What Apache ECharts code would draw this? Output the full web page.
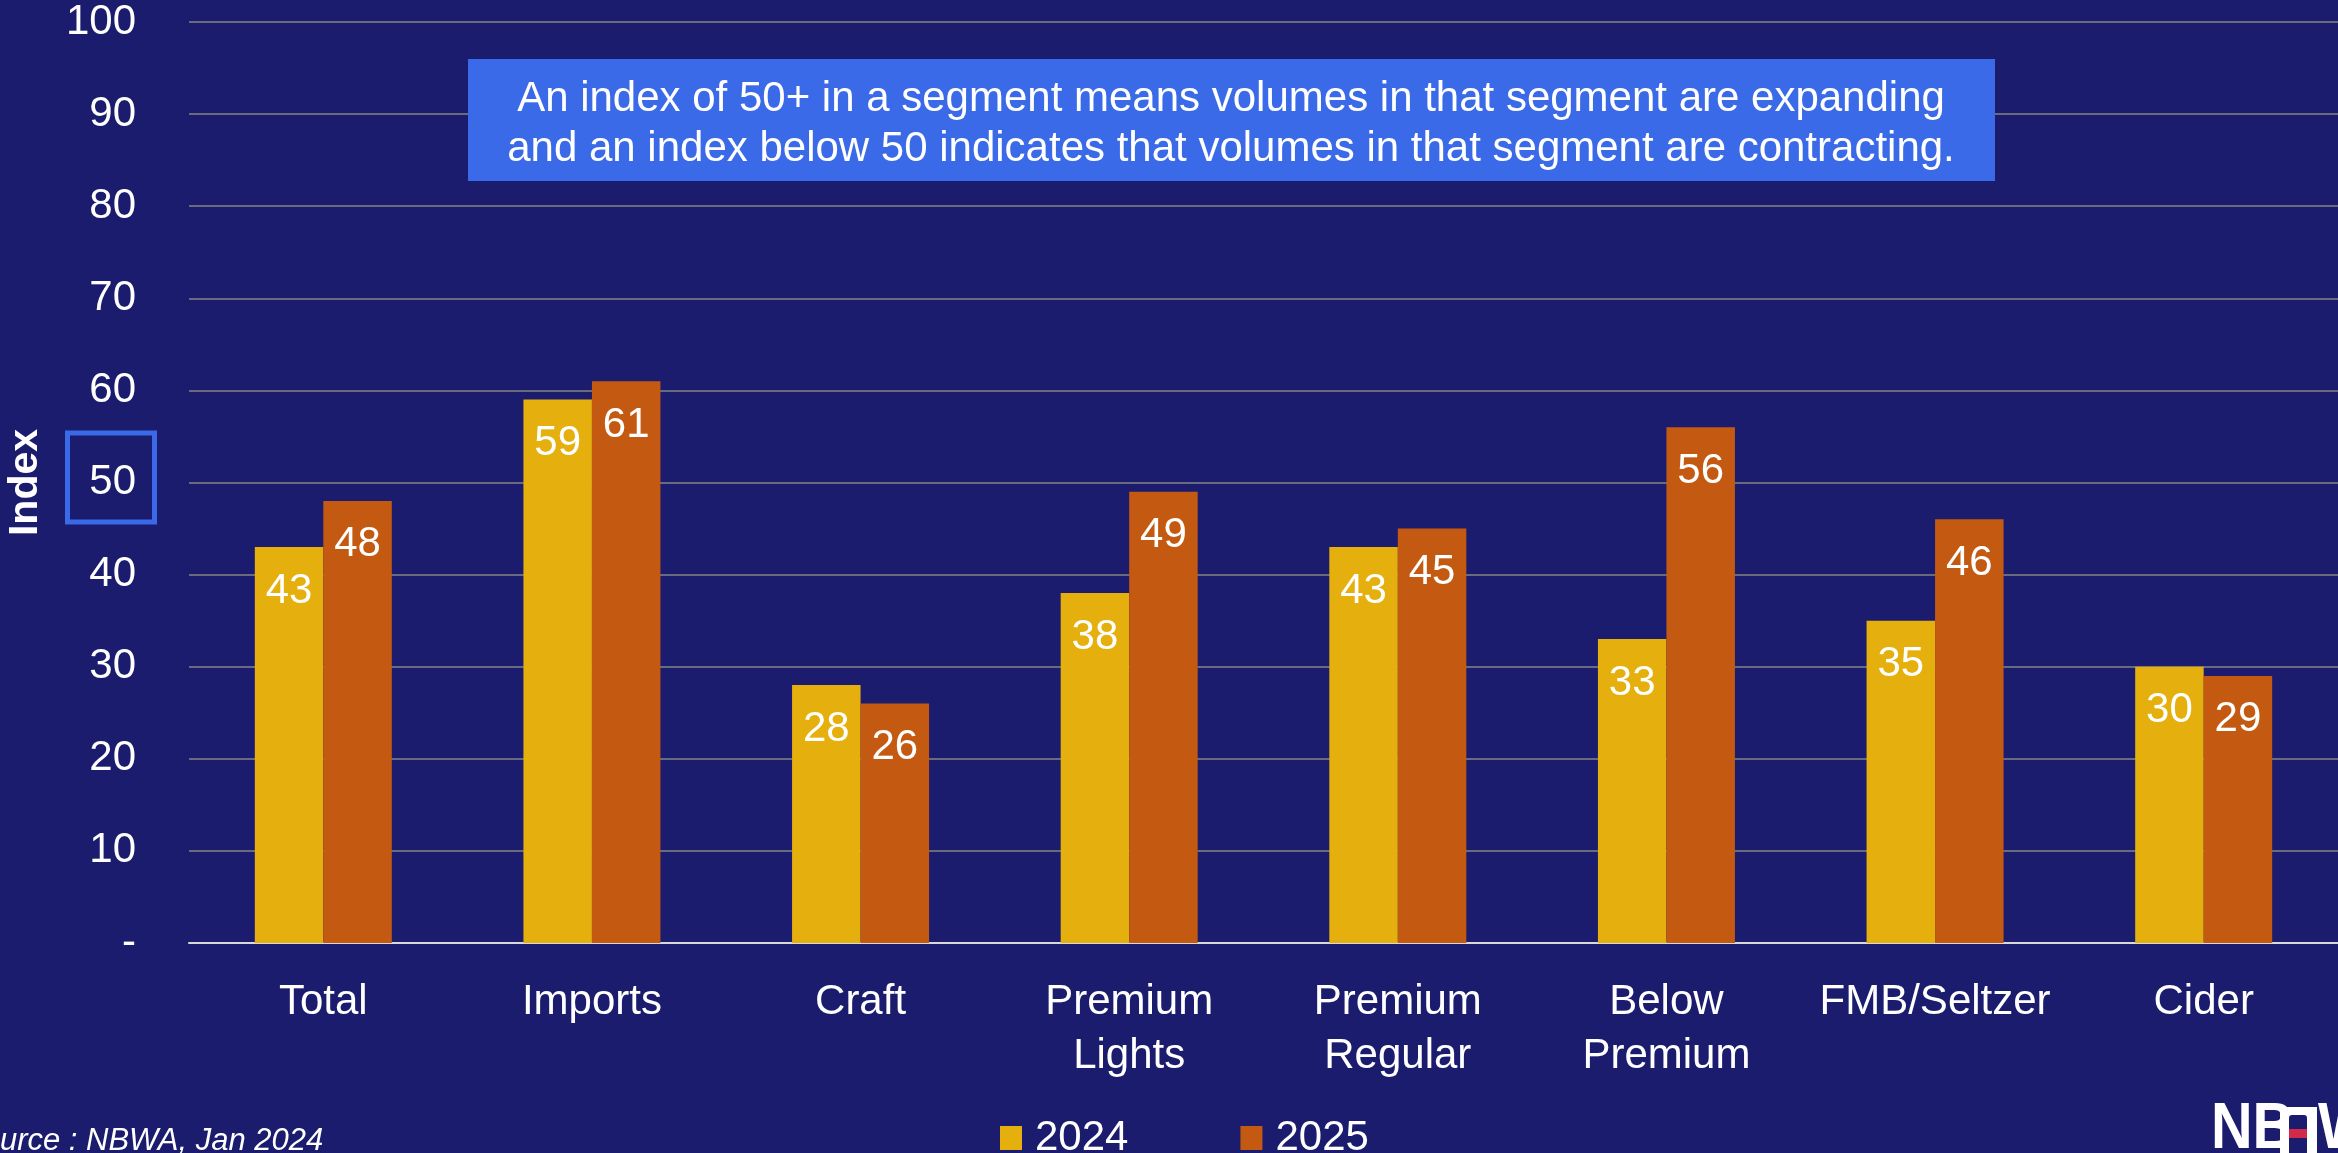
<!DOCTYPE html>
<html>
<head>
<meta charset="utf-8">
<script src="https://cdn.jsdelivr.net/npm/echarts@6/dist/echarts.min.js"></script>
<style>
  html, body { margin: 0; padding: 0; background: #1b1c6e; }
  #chart { width: 2338px; height: 1153px; }
</style>
</head>
<body>
<div id="chart"></div>
<script>
// Beer segment volume index by year
const categories = ['Total', 'Imports', 'Craft', 'Premium\nLights', 'Premium\nRegular', 'Below\nPremium', 'FMB/Seltzer', 'Cider'];
const values2024 = [43, 59, 28, 38, 43, 33, 35, 30];
const values2025 = [48, 61, 26, 49, 45, 56, 46, 29];
const seriesNames = ['2024', '2025'];
const yTicks = { min: 0, max: 100, step: 10 };
const noteLines = [
  'An index of 50+ in a segment means volumes in that segment are expanding',
  'and an index below 50 indicates that volumes in that segment are contracting.'
];
const sourceText = 'Source : NBWA, Jan 2024';

const FONT = '"Liberation Sans", Arial, sans-serif';
const BG = '#1b1c6e';
const GOLD = '#e5b00d';
const RUST = '#c45a11';
const NOTE_BLUE = '#3a6ae8';

const chart = echarts.init(document.getElementById('chart'), null, { renderer: 'canvas' });

const barLabel = {
  show: true,
  position: 'insideTop',
  distance: 23,
  color: '#ffffff',
  fontFamily: FONT,
  fontSize: 42,
  formatter: p => String(p.value)
};

chart.setOption({
  backgroundColor: BG,
  animation: false,
  grid: { left: 189, right: 0, top: 22, bottom: 210, containLabel: false, outerBoundsMode: 'none' },
  legend: {
    data: seriesNames,
    left: 995,
    top: 1112,
    icon: 'rect',
    itemWidth: 22,
    itemHeight: 24,
    itemGap: 112,
    textStyle: { color: '#ffffff', fontFamily: FONT, fontSize: 42, lineHeight: 42, padding: [0, 0, 0, 8] }
  },
  xAxis: {
    type: 'category',
    data: categories,
    axisTick: { show: false },
    axisLine: { lineStyle: { color: '#d9d9d9', width: 2 } },
    axisLabel: { color: '#ffffff', fontFamily: FONT, fontSize: 42, lineHeight: 54, margin: 32, interval: 0 }
  },
  yAxis: {
    type: 'value',
    min: yTicks.min,
    max: yTicks.max,
    interval: yTicks.step,
    name: 'Index',
    nameLocation: 'middle',
    nameGap: 143,
    nameRotate: 90,
    nameTextStyle: { color: '#ffffff', fontFamily: FONT, fontSize: 41, fontWeight: 'bold' },
    axisLine: { show: false },
    axisTick: { show: false },
    axisLabel: {
      color: '#ffffff', fontFamily: FONT, fontSize: 42, margin: 53,
      formatter: v => (v === 0 ? '-' : String(v))
    },
    splitLine: { lineStyle: { color: '#858585', width: 1.5 } }
  },
  series: [
    {
      name: seriesNames[0], type: 'bar', data: values2024,
      itemStyle: { color: GOLD }, barGap: '0%', barCategoryGap: '49%', label: barLabel
    },
    {
      name: seriesNames[1], type: 'bar', data: values2025,
      itemStyle: { color: RUST }, barGap: '0%', barCategoryGap: '49%', label: barLabel
    }
  ]
});

// Decorations: note box, highlight around the 50 tick, source line and logo
const y50 = chart.convertToPixel({ yAxisIndex: 0 }, 50);

chart.setOption({
  graphic: [
    {
      type: 'rect', z: 50,
      shape: { x: 468, y: 59, width: 1527, height: 122 },
      style: { fill: NOTE_BLUE }
    },
    {
      type: 'text', z: 51, x: 1231, y: 124,
      style: {
        text: noteLines.join('\n'), fill: '#ffffff', font: '42px ' + FONT,
        lineHeight: 50, align: 'center', verticalAlign: 'middle'
      }
    },
    {
      type: 'rect', z: 50,
      shape: { x: 67.5, y: y50 - 49.5, width: 87, height: 89 },
      style: { fill: 'none', stroke: NOTE_BLUE, lineWidth: 5 }
    },
    {
      type: 'text', z: 50, x: -38, y: 1126,
      style: { text: sourceText, fill: '#ffffff', font: 'italic 31px ' + FONT, verticalAlign: 'top' }
    },
    {
      type: 'text', z: 50, x: 2211, y: 1098, scaleX: 0.9,
      style: { text: 'NB', fill: '#ffffff', font: 'bold 64px ' + FONT, verticalAlign: 'top' }
    },
    {
      type: 'rect', z: 50,
      shape: { x: 2280, y: 1107, width: 37, height: 50 },
      style: { fill: '#ffffff' }
    },
    {
      type: 'rect', z: 51,
      shape: { x: 2289, y: 1115, width: 18, height: 40, r: 3 },
      style: { fill: BG }
    },
    {
      type: 'rect', z: 52,
      shape: { x: 2289, y: 1129, width: 18, height: 9 },
      style: { fill: '#d42a4a' }
    },
    {
      type: 'text', z: 50, x: 2318, y: 1098, scaleX: 0.9,
      style: { text: 'W', fill: '#ffffff', font: 'bold 64px ' + FONT, verticalAlign: 'top' }
    }
  ]
});
</script>
</body>
</html>
